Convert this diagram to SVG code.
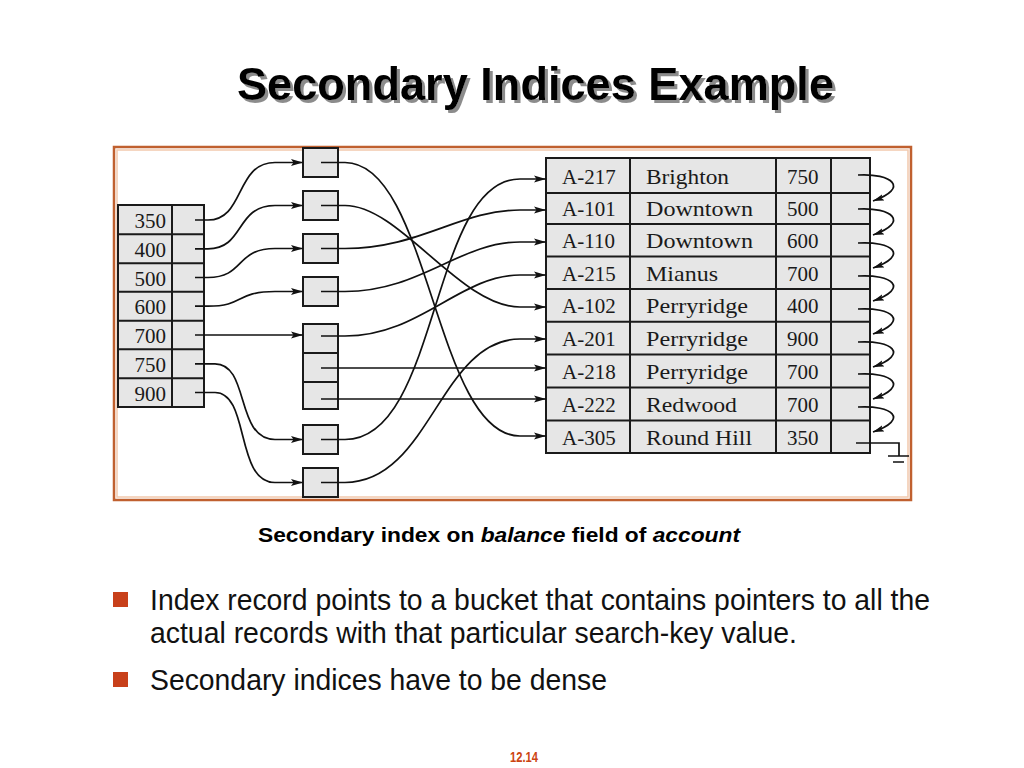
<svg xmlns="http://www.w3.org/2000/svg" width="1024" height="768" viewBox="0 0 1024 768">
<style>
.cell{fill:#e6e6e6;stroke:#1a1a1a;stroke-width:2}
.grid{stroke:#1a1a1a;stroke-width:2;fill:none}
.ser{font-family:"Liberation Serif","Times New Roman",serif;font-size:21px;fill:#1a1a1a}
.con{fill:none;stroke:#111;stroke-width:1.7}
.sans{font-family:"Liberation Sans",Arial,sans-serif}
</style>
<defs>
<marker id="ah" viewBox="0 0 12 8" refX="12" refY="4" markerWidth="12" markerHeight="8" markerUnits="userSpaceOnUse" orient="auto">
<path d="M0,0.5 L12,4 L0,7.5 L2.5,4 z" fill="#111"/>
</marker>
<marker id="ahs" viewBox="0 0 12 8" refX="12" refY="4" markerWidth="11" markerHeight="8" markerUnits="userSpaceOnUse" orient="auto">
<path d="M0,0.5 L12,4 L0,7.5 L2.5,4 z" fill="#111"/>
</marker>
<filter id="shadow" x="-5%" y="-20%" width="110%" height="150%">
<feOffset in="SourceAlpha" dx="3" dy="3" result="off"/>
<feFlood flood-color="#8c8c8c"/>
<feComposite in2="off" operator="in" result="sh"/>
<feMerge><feMergeNode in="sh"/><feMergeNode in="SourceGraphic"/></feMerge>
</filter>
</defs>
<rect width="1024" height="768" fill="#fff"/>

<!-- Title -->
<g id="title">
<text x="237" y="100" class="sans" font-size="46" font-weight="bold" fill="#000" filter="url(#shadow)" textLength="597" lengthAdjust="spacingAndGlyphs">Secondary Indices Example</text>
</g>

<!-- Frame -->
<g id="frame">
<rect x="114" y="147" width="797" height="353" fill="none" stroke="#c0602f" stroke-width="2.5"/>
<rect x="117" y="150" width="791" height="347" fill="none" stroke="#f2c9ad" stroke-width="1.5"/>
</g>

<!-- Index table -->
<g id="index">
<rect x="118" y="205" width="86" height="202" class="cell"/>
<path class="grid" d="M172,205 V407 M118,234.3 H204 M118,263.3 H204 M118,291.7 H204 M118,320.7 H204 M118,349.3 H204 M118,378.3 H204"/>
<g class="ser" text-anchor="end">
<text x="166" y="227.5">350</text>
<text x="166" y="256.5">400</text>
<text x="166" y="285.5">500</text>
<text x="166" y="314">600</text>
<text x="166" y="343">700</text>
<text x="166" y="371.5">750</text>
<text x="166" y="400.5">900</text>
</g>
<path class="con" d="M195,220 H204 M195,248.8 H204 M195,277.5 H204 M195,306.2 H204 M195,335 H204 M195,363.8 H204 M195,392.5 H204"/>
</g>

<!-- Buckets -->
<g id="bucket-350"><rect x="303" y="148" width="35" height="29" class="cell"/></g>
<g id="bucket-400"><rect x="303" y="191" width="35" height="29" class="cell"/></g>
<g id="bucket-500"><rect x="303" y="234" width="35" height="29" class="cell"/></g>
<g id="bucket-600"><rect x="303" y="277" width="35" height="29" class="cell"/></g>
<g id="bucket-700"><rect x="303" y="324" width="35" height="85" class="cell"/><path class="grid" d="M303,353 H338 M303,382 H338"/></g>
<g id="bucket-750"><rect x="303" y="425" width="35" height="29" class="cell"/></g>
<g id="bucket-900"><rect x="303" y="468" width="35" height="29" class="cell"/></g>

<!-- Account table -->
<g id="account">
<rect x="546" y="158" width="324" height="295" class="cell"/>
<path class="grid" d="M630,158 V453 M776,158 V453 M831,158 V453 M546,193 H870 M546,224 H870 M546,256.5 H870 M546,289 H870 M546,321.7 H870 M546,354.5 H870 M546,387.5 H870 M546,420.5 H870"/>
<g class="ser">
<text x="562" y="183.5">A-217</text><text x="646" y="183.5" textLength="83" lengthAdjust="spacingAndGlyphs">Brighton</text><text x="787" y="183.5">750</text>
<text x="562" y="216">A-101</text><text x="646" y="216" textLength="107" lengthAdjust="spacingAndGlyphs">Downtown</text><text x="787" y="216">500</text>
<text x="562" y="248">A-110</text><text x="646" y="248" textLength="107" lengthAdjust="spacingAndGlyphs">Downtown</text><text x="787" y="248">600</text>
<text x="562" y="280.5">A-215</text><text x="646" y="280.5" textLength="72" lengthAdjust="spacingAndGlyphs">Mianus</text><text x="787" y="280.5">700</text>
<text x="562" y="313">A-102</text><text x="646" y="313" textLength="102" lengthAdjust="spacingAndGlyphs">Perryridge</text><text x="787" y="313">400</text>
<text x="562" y="346">A-201</text><text x="646" y="346" textLength="102" lengthAdjust="spacingAndGlyphs">Perryridge</text><text x="787" y="346">900</text>
<text x="562" y="378.5">A-218</text><text x="646" y="378.5" textLength="102" lengthAdjust="spacingAndGlyphs">Perryridge</text><text x="787" y="378.5">700</text>
<text x="562" y="411.5">A-222</text><text x="646" y="411.5" textLength="91" lengthAdjust="spacingAndGlyphs">Redwood</text><text x="787" y="411.5">700</text>
<text x="562" y="444.5">A-305</text><text x="646" y="444.5" textLength="106" lengthAdjust="spacingAndGlyphs">Round Hill</text><text x="787" y="444.5">350</text>
</g>
</g>

<!-- Connectors -->
<g id="connectors">
<path class="con" marker-end="url(#ah)" d="M204,220 H208 C245,220 235,162.5 275,162.5 H303"/>
<path class="con" marker-end="url(#ah)" d="M204,248.8 H208 C245,248.8 235,205.5 275,205.5 H303"/>
<path class="con" marker-end="url(#ah)" d="M204,277.5 H208 C245,277.5 235,248.5 275,248.5 H303"/>
<path class="con" marker-end="url(#ah)" d="M204,306.2 H208 C245,306.2 235,291.5 275,291.5 H303"/>
<path class="con" marker-end="url(#ah)" d="M204,335 H303"/>
<path class="con" marker-end="url(#ah)" d="M204,363.8 H215 C250,363.8 235,439.5 275,439.5 H303"/>
<path class="con" marker-end="url(#ah)" d="M204,392.5 H215 C250,392.5 235,482.5 275,482.5 H303"/>
<path class="con" marker-end="url(#ah)" d="M321,162.5 H345 C430,162.5 435,436 520,436 H546"/>
<path class="con" marker-end="url(#ah)" d="M321,205.5 H345 C400,205.5 460,307 520,307 H546"/>
<path class="con" marker-end="url(#ah)" d="M321,248.5 H345 C420,248.5 460,210 520,210 H546"/>
<path class="con" marker-end="url(#ah)" d="M321,291.5 H345 C420,291.5 460,242 520,242 H546"/>
<path class="con" marker-end="url(#ah)" d="M321,336 H345 C420,336 460,275 520,275 H546"/>
<path class="con" marker-end="url(#ah)" d="M321,368 H546"/>
<path class="con" marker-end="url(#ah)" d="M321,399 H546"/>
<path class="con" marker-end="url(#ah)" d="M321,439.5 H345 C440,439.5 430,179 520,179 H546"/>
<path class="con" marker-end="url(#ah)" d="M321,482.5 H345 C430,482.5 440,339 520,339 H546"/>
<path class="con" marker-end="url(#ahs)" d="M858,175 C892,173 910,188 873,201"/>
<path class="con" marker-end="url(#ahs)" d="M858,209 C892,207 910,222 873,235"/>
<path class="con" marker-end="url(#ahs)" d="M858,243 C892,241 910,255 873,268"/>
<path class="con" marker-end="url(#ahs)" d="M858,276 C892,274 910,288 873,301"/>
<path class="con" marker-end="url(#ahs)" d="M858,309 C892,307 910,321 873,334"/>
<path class="con" marker-end="url(#ahs)" d="M858,342 C892,340 910,354 873,367"/>
<path class="con" marker-end="url(#ahs)" d="M858,374 C892,372 910,386 873,399"/>
<path class="con" marker-end="url(#ahs)" d="M858,407 C892,405 910,419 873,432"/>
<path class="con" d="M856,443 H899 V456 M888,456 H909 M893,462 H904"/>
</g>

<!-- Caption and bullets -->
<g id="caption">
<text x="258" y="542" class="sans" font-size="20" font-weight="bold" fill="#000" textLength="482" lengthAdjust="spacingAndGlyphs">Secondary index on <tspan font-style="italic">balance</tspan> field of <tspan font-style="italic">account</tspan></text>
</g>
<g id="bullets">
<rect x="113" y="592" width="15" height="15" fill="#c8401a"/>
<rect x="113" y="672" width="15" height="15" fill="#c8401a"/>
<text x="150" y="610" class="sans" font-size="29" fill="#111" textLength="780" lengthAdjust="spacingAndGlyphs">Index record points to a bucket that contains pointers to all the</text>
<text x="150" y="643" class="sans" font-size="29" fill="#111" textLength="647" lengthAdjust="spacingAndGlyphs">actual records with that particular search-key value.</text>
<text x="150" y="690" class="sans" font-size="29" fill="#111" textLength="457" lengthAdjust="spacingAndGlyphs">Secondary indices have to be dense</text>
</g>
<g id="page">
<text x="510" y="762" class="sans" font-size="14" font-weight="bold" fill="#cc4411" textLength="28" lengthAdjust="spacingAndGlyphs">12.14</text>
</g>
</svg>
